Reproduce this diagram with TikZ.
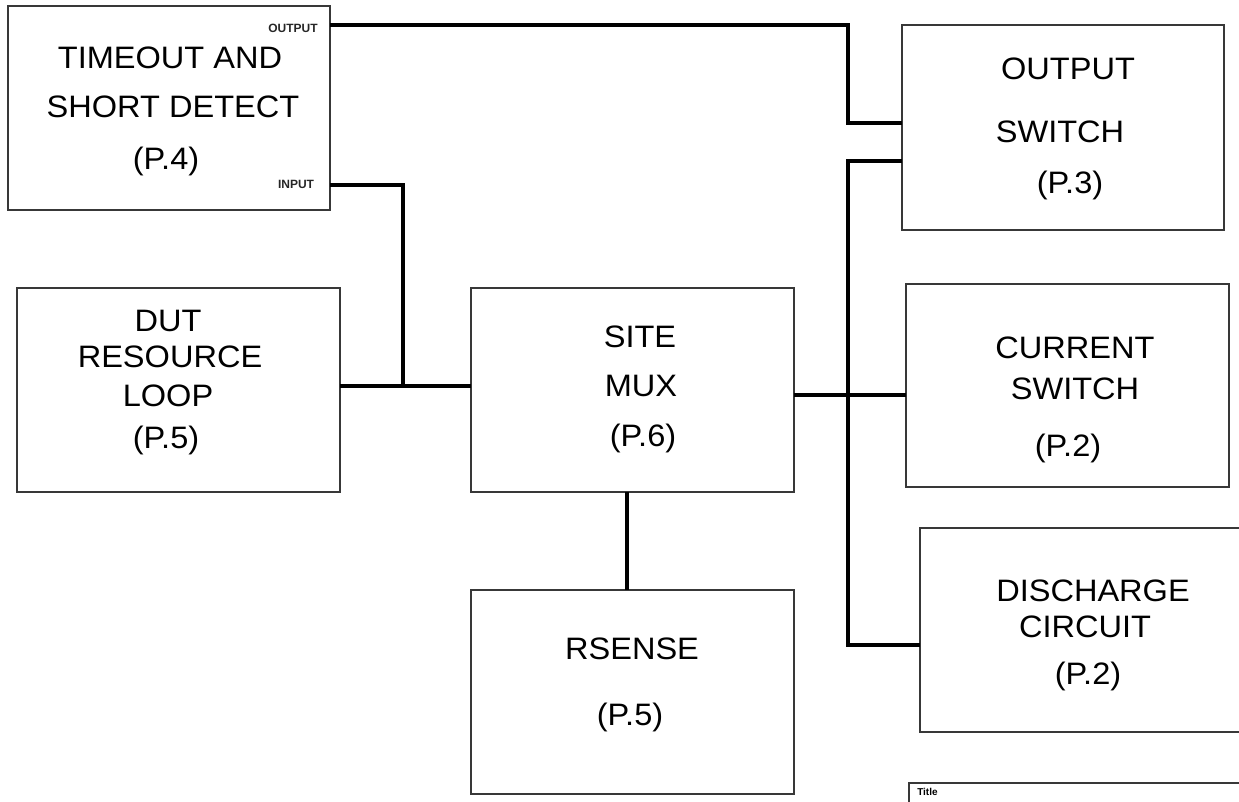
\documentclass[tikz,border=0pt]{standalone}
\usepackage{fontspec}
\setmainfont{Liberation Sans}
\newfontfamily\lbl[FakeStretch=1.05]{Liberation Sans}
\begin{document}
\begin{tikzpicture}[x=0.75pt,y=-0.75pt,
  box/.style={draw=black!78, line width=1.15pt, rectangle, inner sep=0pt, outer sep=0pt,
              minimum width=242.25pt, minimum height=153pt},
  txt/.style={font=\lbl\fontsize{23.25}{26}\selectfont, inner sep=0pt, anchor=center},
  pin/.style={font=\fontsize{9}{10}\selectfont\bfseries, inner sep=0pt, anchor=center, text=black!85},
  wire/.style={line width=3pt, black}]
\useasboundingbox (0,0) rectangle (1239,801);
\clip (0,0) rectangle (1239,801);

% boxes
\node[box, minimum width=241.5pt] (tsd) at (169,108) {};
\node[box, minimum width=241.5pt, minimum height=153.75pt] (osw) at (1063,127.5) {};
\node[box] (dut) at (178.5,390) {};
\node[box] (mux) at (632.5,390) {};
\node[box, minimum height=152.25pt] (csw) at (1067.5,385.5) {};
\node[box] (rs) at (632.5,692) {};
\node[box] (dis) at (1081.5,630) {};
\draw[draw=black!78, line width=1.15pt] (909,783) rectangle (1270,840);
\node[font=\fontsize{7.5}{8}\selectfont\bfseries, inner sep=0pt, anchor=west] (ttl) at (917,792) {Title};

% texts
\node[txt] (t1) at (170,58) {TIMEOUT AND};
\node[txt] (t2) at (173,107) {SHORT DETECT};
\node[txt] (t3) at (166,161) {(P.4)};
\node[pin] (outlbl) at (293,28) {OUTPUT};
\node[pin] (inlbl) at (296,184) {INPUT};

\node[txt] (o1) at (1068,69) {OUTPUT};
\node[txt] (o2) at (1060,132) {SWITCH};
\node[txt] (o3) at (1070,185) {(P.3)};

\node[txt] (d1) at (168,321) {DUT};
\node[txt] (d2) at (170,357) {RESOURCE};
\node[txt] (d3) at (168,396) {LOOP};
\node[txt] (d4) at (166,440) {(P.5)};

\node[txt] (m1) at (640,337) {SITE};
\node[txt] (m2) at (641,386) {MUX};
\node[txt] (m3) at (643,438) {(P.6)};

\node[txt] (c1) at (1075,348) {CURRENT};
\node[txt] (c2) at (1075,389) {SWITCH};
\node[txt] (c3) at (1068,448) {(P.2)};

\node[txt] (s1) at (1093,591) {DISCHARGE};
\node[txt] (s2) at (1085,627) {CIRCUIT};
\node[txt] (s3) at (1088,676) {(P.2)};

\node[txt] (r1) at (632,649) {RSENSE};
\node[txt] (r2) at (630,717) {(P.5)};

% junction / bend coordinates
\coordinate (b1) at (848,123);
\coordinate (j1) at (403,386);
\coordinate (j2) at (848,395);
\coordinate (bt) at (848,161);
\coordinate (bb) at (848,645);
\coordinate (rsx) at (627,540);

% connectors
\draw[wire] (tsd.east |- 0,25) -| (b1) -- (osw.west |- b1);
\draw[wire] (tsd.east |- 0,185) -| (j1);
\draw[wire] (dut.east |- j1) -- (mux.west |- j1);
\draw[wire] (mux.east |- j2) -- (csw.west |- j2);
\draw[wire] (osw.west |- bt) -- (bt) -- (bb) -- (dis.west |- bb);
\draw[wire] (mux.south -| rsx) -- (rs.north -| rsx);
\end{tikzpicture}
\end{document}
